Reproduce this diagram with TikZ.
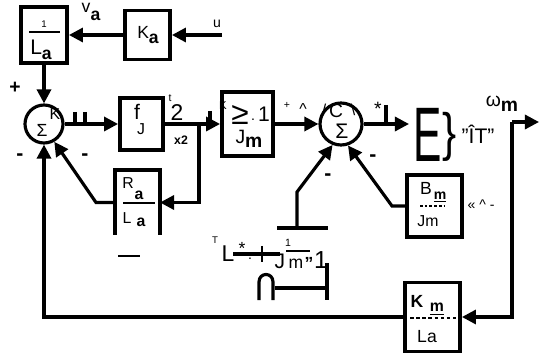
\documentclass[tikz,border=0pt]{standalone}
\usepackage{fontspec}
\setmainfont{Liberation Sans}
\usetikzlibrary{arrows.meta}
\newcommand\fsz[1]{\fontsize{#1}{#1}\selectfont}
\begin{document}
\begin{tikzpicture}[x=0.02cm,y=-0.02cm,
  ln/.style={line width=1.8pt},
  arr/.style={ln,-{Triangle[length=8pt,width=8pt]}},
  blk/.style={draw,line width=2.2pt,inner sep=0},
  sumn/.style={draw,circle,line width=1.8pt,inner sep=0},
  tx/.style={inner sep=0,outer sep=0},
  mn/.style={tx,font=\fsz{12}\bfseries}]
\useasboundingbox[fill=white] (0,0) rectangle (540,354);
% blocks
\node[blk,minimum width=0.92cm,minimum height=1.12cm] (LA1) at (44,35) {};
\node[blk,minimum width=0.9cm,minimum height=0.98cm] (KA) at (147.5,35) {};
\node[blk,minimum width=0.86cm,minimum height=1.04cm] (F) at (141.5,124) {};
\node[blk,minimum width=1.02cm,minimum height=1.28cm] (JM) at (247.5,124) {};
\node[blk,minimum width=1.1cm,minimum height=1.24cm] (BM) at (434.5,206) {};
\node[blk,minimum width=1.1cm,minimum height=1.38cm] (KM) at (432.5,317) {};
\node[tx,minimum width=0.9cm,minimum height=1.3cm] (RA) at (137.5,202.5) {};
\draw[line width=2.2pt] (RA.south west) |- (RA.north east) -- (RA.south east);
\draw[line width=1pt] (118,256) -- (140,256);
\node[sumn,minimum size=0.76cm] (S1) at (44,124) {};
\node[sumn,minimum size=0.84cm] (S2) at (341,124) {};
% texts in 1/La
\node[tx,font=\fsz{5.5}] (n1) at (44,24) {1};
\draw[line width=0.9pt] (29,32) -- (60,32);
\node[tx,font=\fsz{12}] (d1) at (41,50) {L\raisebox{-3pt}{\fsz{10}\bfseries a}};
\node[tx,font=\fsz{10}] (ka) at (148,35) {K\raisebox{-3pt}{\bfseries a}};
\node[tx,font=\fsz{10}] (va) at (91,12) {v\raisebox{-5pt}{\bfseries a}};
\node[tx,font=\fsz{8}] (u) at (217,24) {u};
\node[tx,font=\fsz{11}\bfseries] (plus1) at (15,88) {+};
% summer 1
\node[tx,font=\fsz{9}] (s1k) at (55,114) {K};
\node[tx,font=\fsz{10}] (s1s) at (42,130) {Σ};
\node[mn] (m1) at (20,157) {-};
\node[mn] (m2) at (85,157) {-};
\draw[ln] (75,112) -- (75,124) (85,112) -- (85,124) (210,111) -- (210,124);
% f block
\node[tx,font=\fsz{12}] (ff) at (137,112) {f};
\node[tx,font=\fsz{9}] (fj) at (141,129) {J};
\node[tx,font=\fsz{6}] (ft) at (170,98) {t};
\node[tx,font=\fsz{13}] (f2) at (177,113) {2};
\node[tx,font=\fsz{7}\bfseries] (x2) at (181,140) {x2};
% Jm block
\node[tx,font=\fsz{6.5}] (jk) at (223,106) {K};
\node[tx,font=\fsz{18}] (jge) at (240,115) {≥};
\node[tx,font=\fsz{8}] (jdot) at (253,120) {.};
\node[tx,font=\fsz{12}] (j1) at (264,114) {1};
\node[tx,font=\fsz{11}] (jjm) at (249,139) {J\raisebox{-2pt}{\bfseries m}};
% summer 2
\node[tx,font=\fsz{9}] (s2a) at (324,110) {/};
\node[tx,font=\fsz{11}] (s2c) at (336,111) {C};
\node[tx,font=\fsz{9}] (s2b) at (353,110) {\textbackslash};
\node[tx,font=\fsz{12}] (s2s) at (342,131) {Σ};
\node[tx,font=\fsz{6}] (p2) at (287,105) {+};
\node[tx,font=\fsz{9}] (c2) at (303,109) {\textasciicircum};
\node[mn] (m3) at (328,177) {-};
\node[mn] (m4) at (373,158) {-};
\node[tx,font=\fsz{11}] (st) at (378,109) {*};
\draw[ln] (386,105) -- (386,124);
% E }
\node[tx,font=\fsz{44}] (E) at (428,135) {\scalebox{0.55}[1]{E}};
\node[tx,font=\fsz{30}] (br) at (450,137) {\scalebox{0.8}[1]{\}}};
\node[tx,font=\fsz{12}] (it) at (478,134) {"ÎT"};
\node[tx,font=\fsz{11}] (om) at (502,104) {ω\raisebox{-3pt}{\bfseries m}};
% Bm block
\node[tx,font=\fsz{10}] (bb) at (426,188) {B};
\node[tx,font=\fsz{8}\bfseries] (bm) at (440,197) {\underline{m}};
\draw[line width=0.8pt,dash pattern=on 1.5pt off 1.2pt] (420,206) -- (444,206);
\node[tx,font=\fsz{9}] (bj) at (428,221) {Jm};
\node[tx,font=\fsz{8}] (bl) at (481,205) {«\ \textasciicircum\ -};
% Km block
\node[tx,font=\fsz{10}\bfseries] (kk) at (417,301) {K};
\node[tx,font=\fsz{9}\bfseries] (km) at (437,309) {\underline{m}};
\draw[line width=0.8pt,dash pattern=on 2pt off 1.5pt] (410,318) -- (456,318);
\node[tx,font=\fsz{10}] (kl) at (427,337) {La};
% Ra block
\node[tx,font=\fsz{9}] (rr) at (128,183) {R};
\node[tx,font=\fsz{9}\bfseries] (ra) at (139,195) {a};
\draw[line width=0.9pt] (123,203) -- (155,203);
\node[tx,font=\fsz{9}] (rl) at (127,218) {L};
\node[tx,font=\fsz{9}\bfseries] (rla) at (141,222) {a};
% lower texts
\node[tx,font=\fsz{5.5}] (lt) at (215,240) {T};
\node[tx,font=\fsz{13}] (lL) at (228,254) {L};
\draw[line width=2pt] (233,254) -- (280,254);
\node[tx,font=\fsz{10}] (lst) at (242,248) {*};
\node[tx,font=\fsz{8}] (ldot) at (250,259) {.};
\draw[line width=1.2pt] (262,246) -- (262,262);
\node[tx,font=\fsz{12}] (lJ) at (280,261) {J};
\node[tx,font=\fsz{6}] (l1) at (288,243) {1};
\draw[line width=0.6pt] (286,251) -- (310,251);
\node[tx,font=\fsz{10}] (lm) at (296,264) {m};
\node[tx,font=\fsz{10}\bfseries] (lq) at (309,263) {"};
\node[tx,font=\fsz{14}] (l1b) at (321,260) {1};
\draw[ln] (327,263) -- (327,300);
\draw[ln] (259,300) -- (259,282) .. controls (259,272) and (273,272) .. (273,282) -- (273,300);
\draw[line width=2.2pt] (275,288) -- (328,288);
\draw[line width=2.2pt] (277,228) -- (328,228);
% connectors
\coordinate (uin) at (222,35);
\draw[arr] (uin) -- (KA.east);
\draw[arr] (KA.west) -- (LA1.east);
\draw[arr] (LA1.south) -- (S1.north);
\draw[arr] (S1.east) -- (F.west);
\draw[arr] (F.east) -- (JM.west);
\coordinate (b1) at (199,124);
\draw[arr] (b1) |- (RA.east);
\draw[arr] (RA.west) -- (96,202.5) -- (S1.-60);
\draw[arr] (KM.west) -| (S1.south);
\draw[arr] (JM.east) -- (S2.west);
\coordinate (e1) at (409,124);
\draw[arr] (S2.east) -- (e1);
\draw[arr] (BM.west) -- (392,206) -- (S2.-72);
\coordinate (g) at (297,228);
\draw[arr] (g) -- (297,192) -- (S2.-112);
\coordinate (c1) at (512,122);
\coordinate (out) at (539,122);
\draw[arr] (c1) -- (out);
\draw[arr] (c1) |- (KM.east);
\end{tikzpicture}
\end{document}
